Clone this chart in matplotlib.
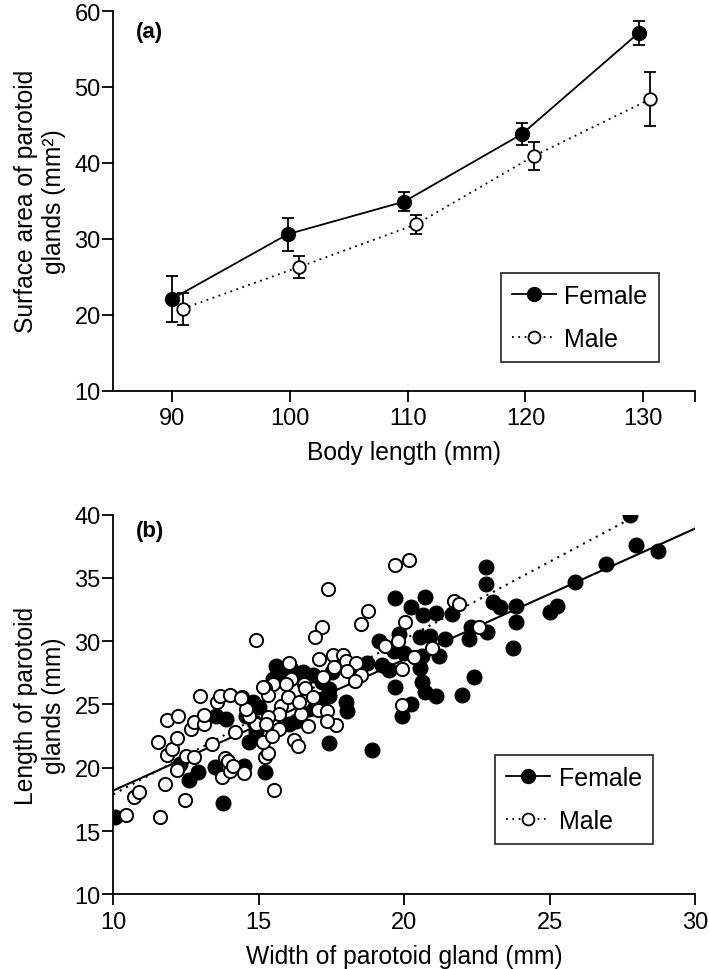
import matplotlib
matplotlib.use("Agg")
import matplotlib.pyplot as plt
from matplotlib.lines import Line2D

plt.rcParams["font.family"] = ["Liberation Sans", "DejaVu Sans"]

# (a) surface area by body length class (mean +/- error)
body_len_f = [90, 99.8, 109.7, 119.7, 129.6]
body_len_m = [90.9, 100.8, 110.7, 120.7, 130.6]
area_f = [22.1, 30.6, 34.9, 43.8, 57.1]
area_f_err = [3.0, 2.2, 1.3, 1.5, 1.6]
area_m = [20.8, 26.3, 31.9, 40.9, 48.4]
area_m_err = [2.1, 1.5, 1.3, 1.85, 3.55]

# (b) width vs length of parotoid glands
female_w = [27.75, 27.96, 28.73, 26.93, 25.89, 25.24, 25.03, 23.85, 23.3, 23.85, 23.73, 22.81, 22.81,
            23.05, 22.3, 22.84, 22.22, 21.65, 21.4, 21.1, 20.73, 20.24, 20.64, 19.7, 20.9, 20.53, 19.82,
            19.13, 19.65, 19.99, 21.19, 20.62, 20.56, 20.6, 22.39, 19.7, 19.25, 19.48, 18.73, 20.73, 21.08,
            21.99, 19.93, 20.22, 17.99, 18.05, 17.42, 18.88, 17.42, 17.42, 17.19, 17.19, 16.85, 16.51, 15.77,
            15.48, 15.6, 16.11, 17.53, 16.74, 16.28, 16.05, 15.02, 14.79, 14.57, 14.85, 14.91, 14.68, 13.54,
            13.88, 12.28, 12.6, 12.91, 13.48, 13.77, 14.48, 15.2, 10.06]
female_l = [40.0, 37.64, 37.11, 36.11, 34.66, 32.77, 32.29, 32.77, 32.69, 31.5, 29.47, 35.9, 34.53,
            33.1, 31.1, 30.76, 30.18, 32.16, 30.18, 32.21, 33.48, 32.69, 32.08, 33.4, 30.44, 30.32, 30.58,
            30.05, 29.21, 29.07, 28.8, 28.86, 27.9, 26.76, 27.2, 26.4, 28.1, 27.75, 28.28, 25.97, 25.65,
            25.76, 24.12, 25.04, 25.18, 24.51, 21.96, 21.43, 26.23, 25.7, 25.44, 26.76, 27.35, 27.6, 27.42,
            27.02, 28.07, 27.81, 27.55, 24.65, 23.72, 23.46, 24.78, 25.18, 24.12, 23.6, 22.8, 22.02, 24.12,
            23.86, 20.3, 19.06, 19.64, 20.04, 17.22, 20.12, 19.64, 16.09]
male_w = [10.43, 10.72, 10.87, 11.6, 11.77, 12.48, 11.54, 11.83, 12.03, 12.2, 11.83, 12.23, 12.68,
          12.76, 13.12, 13.12, 12.97, 13.56, 13.68, 14.0, 14.42, 14.19, 13.4, 12.51, 12.77, 12.19, 13.73,
          14.02, 13.85, 13.94, 14.11, 14.49, 15.51, 15.22, 15.31, 15.14, 16.22, 16.34, 14.91, 17.39, 18.77,
          18.53, 17.17, 16.93, 20.02, 19.7, 20.16, 21.73, 21.87, 22.56, 19.34, 19.79, 20.94, 20.37, 19.93,
          17.08, 17.57, 17.88, 17.99, 18.34, 17.59, 18.05, 18.51, 18.31, 17.22, 16.57, 16.05, 16.11, 15.94,
          15.48, 15.2, 15.33, 15.77, 16.0, 16.51, 16.59, 16.88, 17.04, 17.36, 17.65, 17.34, 16.45, 16.68,
          15.71, 15.71, 15.45, 15.31, 14.91, 14.68, 14.57, 15.14, 14.4, 19.91, 20.33, 15.25, 16.39]
male_l = [16.29, 17.67, 18.11, 16.09, 18.72, 17.48, 22.02, 21.01, 21.49, 22.36, 23.8, 24.12, 23.07,
          23.64, 23.46, 24.17, 25.7, 25.18, 25.7, 25.78, 25.57, 22.8, 21.88, 20.96, 20.83, 19.83, 19.3,
          19.72, 20.77, 20.5, 20.17, 19.59, 18.27, 20.83, 21.2, 22.02, 22.2, 21.75, 30.1, 34.13, 32.37,
          31.37, 31.15, 30.32, 31.55, 36.0, 36.45, 33.21, 32.95, 31.12, 29.65, 29.99, 29.5, 28.76, 27.84,
          28.6, 28.92, 28.92, 28.47, 28.26, 27.94, 27.68, 27.36, 26.84, 27.15, 26.62, 28.28, 27.02, 26.62,
          26.62, 26.28, 25.78, 24.91, 25.57, 25.3, 26.28, 25.57, 24.59, 24.51, 23.38, 23.72, 24.25, 23.28,
          24.25, 23.07, 22.49, 23.99, 23.46, 24.12, 24.65, 26.36, 25.49, 24.96, 28.74, 23.46, 25.18]

# regression lines (slope, intercept) and their x range
female_fit = (1.035, 7.85)
female_fit_x = [10, 30]
male_fit = (1.225, 5.65)
male_fit_x = [10, 28.05]

dot = (0, (1, 2.5))

fig = plt.figure(figsize=(7.09, 9.70), dpi=100)
ax1 = fig.add_axes([0.1598, 0.5962, 0.8205, 0.3914])
ax2 = fig.add_axes([0.1598, 0.077, 0.8205, 0.3914])

for ax in (ax1, ax2):
    ax.spines["top"].set_visible(False)
    ax.spines["right"].set_visible(False)
    ax.spines["left"].set_linewidth(1.3)
    ax.spines["bottom"].set_linewidth(1.3)
    ax.tick_params(length=8, width=1.3, labelsize=17, direction="out")
    ax.tick_params(axis="y", pad=1)
    ax.tick_params(axis="x", pad=4)

# panel (a)
ax1.errorbar(body_len_f, area_f, yerr=area_f_err, color="black", marker="o", ms=10, mfc="black",
             lw=1.3, capsize=4.5, capthick=1.3, elinewidth=1.3, zorder=3)
ax1.errorbar(body_len_m, area_m, yerr=area_m_err, color="black", marker="o", ms=9, mfc="white",
             mew=1.3, ls=dot, lw=1.3, capsize=4.5, capthick=1.3, elinewidth=1.3, zorder=3)
ax1.set_xlim(85, 134.4)
ax1.set_ylim(10, 60)
ax1.set_xticks([90, 100, 110, 120, 130])
ax1.set_xticks([134.4], minor=True)
ax1.tick_params(axis="x", which="minor", length=8, width=1.3)
ax1.set_yticks([10, 20, 30, 40, 50, 60])
ax1.set_xlabel("Body length (mm)", fontsize=17.7, labelpad=8)
ax1.set_ylabel("Surface area of parotoid\nglands (mm²)", fontsize=17.7, labelpad=6)
ax1.text(0.038, 0.975, "(a)", transform=ax1.transAxes, fontsize=16, fontweight="bold", va="top")

# panel (b)
ax2.plot(female_fit_x, [female_fit[0] * x + female_fit[1] for x in female_fit_x],
         color="black", lw=1.5, zorder=1)
ax2.plot(male_fit_x, [male_fit[0] * x + male_fit[1] for x in male_fit_x],
         color="black", lw=1.5, ls=dot, zorder=1)
ax2.plot(female_w, female_l, "o", ms=10.5, mfc="black", mec="black", zorder=2)
ax2.plot(male_w, male_l, "o", ms=9.5, mfc="white", mec="black", mew=1.4, zorder=3)
ax2.set_xlim(10, 30)
ax2.set_ylim(10, 40)
ax2.set_xticks([10, 15, 20, 25, 30])
ax2.set_yticks([10, 15, 20, 25, 30, 35, 40])
ax2.set_xlabel("Width of parotoid gland (mm)", fontsize=17.7, labelpad=8)
ax2.set_ylabel("Length of parotoid\nglands (mm)", fontsize=17.7, labelpad=6)
ax2.text(0.038, 0.985, "(b)", transform=ax2.transAxes, fontsize=16, fontweight="bold", va="top")

handles = [Line2D([], [], color="black", lw=1.3, marker="o", ms=10, mfc="black"),
           Line2D([], [], color="black", lw=1.3, ls=dot, marker="o", ms=8.5, mfc="white", mew=1.3)]
for ax, anchor in ((ax1, (0.666, 0.31)), (ax2, (0.656, 0.367))):
    leg = ax.legend(handles, ["Female", "Male"], loc="upper left", bbox_to_anchor=anchor,
                    fontsize=18, frameon=True, fancybox=False, edgecolor="black",
                    handlelength=1.75, borderpad=0.45, labelspacing=0.75, handletextpad=0.35,
                    borderaxespad=0)
    leg.get_frame().set_linewidth(1.3)

fig.savefig("out.png", dpi=100)
